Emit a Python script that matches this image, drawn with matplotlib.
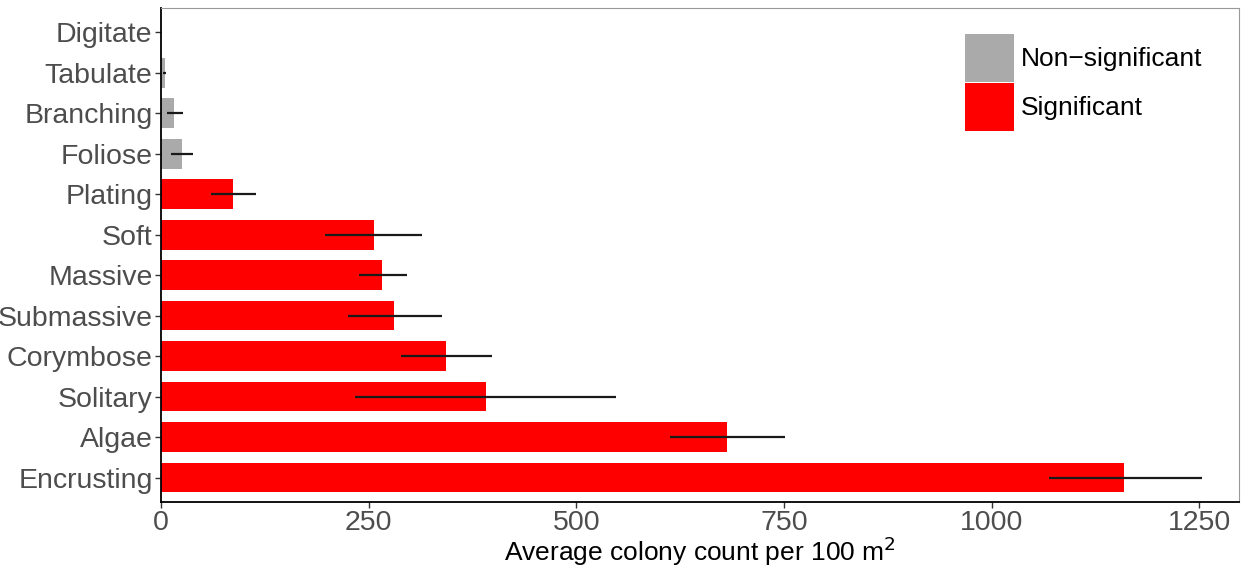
import matplotlib.pyplot as plt
from matplotlib.patches import Patch
import numpy as np

plt.rcParams['font.family'] = ['Liberation Sans', 'DejaVu Sans']

# top to bottom as in the picture
categories = ['Digitate', 'Tabulate', 'Branching', 'Foliose', 'Plating', 'Soft',
              'Massive', 'Submassive', 'Corymbose', 'Solitary', 'Algae', 'Encrusting']
means = [0, 4.5, 16, 25, 87, 256, 266, 281, 343, 391, 682, 1160]
lower = [0, 3, 7, 12, 60, 197, 238, 225, 289, 234, 613, 1069]
upper = [0.5, 6, 26, 38, 114, 314, 296, 338, 398, 548, 751, 1254]
significant = [False, False, False, False, True, True, True, True, True, True, True, True]

grey_col = '#AAAAAA'
red_col = '#FF0000'

fig, ax = plt.subplots(figsize=(12.41, 5.69), dpi=100)
fig.subplots_adjust(left=0.1297, right=0.9984, top=0.986, bottom=0.1178)

n = len(categories)
y = np.arange(n)[::-1]
colors = [red_col if s else grey_col for s in significant]
ax.barh(y, means, height=0.73, color=colors, zorder=2)
ax.hlines(y, lower, upper, color='#1a1a1a', linewidth=1.6, zorder=3)

ax.set_yticks(y)
ax.set_yticklabels(categories)
ax.set_ylim(-0.6, n - 1 + 0.6)
ax.set_xlim(0, 1298)
ax.set_xticks([0, 250, 500, 750, 1000, 1250])

ax.tick_params(axis='both', labelsize=20.5, labelcolor='#4D4D4D', color='#333333',
               length=4, width=1, pad=2)
ax.set_xlabel('Average colony count per 100 m$^2$', fontsize=19, color='black')
ax.xaxis.set_label_coords(0.5, -0.066)

for s in ['left', 'bottom']:
    ax.spines[s].set_color('black')
    ax.spines[s].set_linewidth(1.3)
for s in ['top', 'right']:
    ax.spines[s].set_color('#999999')
    ax.spines[s].set_linewidth(0.8)

handles = [Patch(facecolor=grey_col, label='Non\u2212significant'),
           Patch(facecolor=red_col, label='Significant')]
fig.legend(handles=handles, loc='upper left', bbox_to_anchor=(965 / 1241, 1 - 34 / 569),
           frameon=False, fontsize=19, handlelength=1.85, handleheight=2.42,
           labelspacing=0.05, handletextpad=0.25, borderpad=0, borderaxespad=0)

plt.savefig('out.png')
